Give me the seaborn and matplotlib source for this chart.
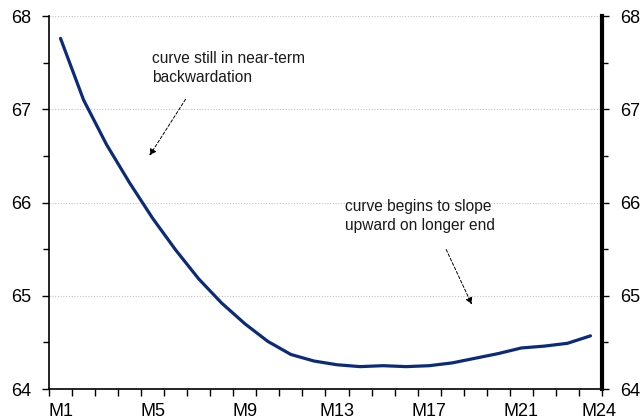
import matplotlib
matplotlib.use("Agg")
import matplotlib.pyplot as plt
import matplotlib.transforms as mtransforms
import seaborn as sns
import pandas as pd
from matplotlib.ticker import MultipleLocator, FixedLocator

months = [f"M{i}" for i in range(1, 25)]
prices = [67.76, 67.10, 66.62, 66.21, 65.83, 65.49, 65.18, 64.92, 64.70, 64.51,
          64.37, 64.30, 64.26, 64.24, 64.25, 64.24, 64.25, 64.28, 64.33, 64.38,
          64.44, 64.46, 64.49, 64.57]
tick_labels = ["M1", "M5", "M9", "M13", "M17", "M21", "M24"]
y_ticks = [64, 65, 66, 67, 68]

sns.set_theme(style="white")
plt.rcParams['font.family'] = ['Liberation Sans', 'DejaVu Sans']

df = pd.DataFrame({"month": months, "price": prices, "pos": range(len(months))})

W, H = 641, 419
fig = plt.figure(figsize=(W / 100, H / 100), dpi=100)
ax = fig.add_axes([49 / W, 1 - 389 / H, (602 - 49) / W, (389 - 16) / H])

sns.lineplot(data=df, x="pos", y="price", ax=ax, color="#0b2a78", linewidth=2.3)

ax.set_xlim(-0.5, len(months) - 0.5)
ax.set_ylim(64, 68)
ax.set_xlabel("")
ax.set_ylabel("")

# x ticks: boundaries as tick marks, labels at centres
ax.xaxis.set_major_locator(FixedLocator([x - 0.5 for x in range(len(months) + 1)]))
ax.set_xticklabels([])
label_pos = [months.index(t) for t in tick_labels]
label_pos[-1] = len(months) - 0.65
offset = mtransforms.ScaledTranslation(0, -27 / 100, fig.dpi_scale_trans)
for p, t in zip(label_pos, tick_labels):
    ax.text(p, 0.0, t, transform=ax.get_xaxis_transform() + offset,
            ha="center", va="baseline", fontsize=13, color="#000000")
ax.tick_params(axis="x", direction="out", length=5, width=1, color="black", bottom=True)

# y ticks
ax.set_yticks(y_ticks)
ax.set_yticklabels([str(v) for v in y_ticks])
ax.yaxis.set_minor_locator(MultipleLocator(0.5))
ax.tick_params(axis="y", which="both", direction="out", left=True, right=True,
               labelleft=True, labelright=True, labelsize=13, pad=8, color="black",
               labelcolor="black")
ax.tick_params(axis="y", which="major", length=5, width=1)
ax.tick_params(axis="y", which="minor", length=4, width=1)

for y in y_ticks:
    ax.axhline(y, color="#c4c4c4", linestyle=(0, (1, 1.5)), linewidth=0.8, zorder=0)

ax.spines["top"].set_visible(False)
ax.spines["left"].set_color("black")
ax.spines["left"].set_linewidth(1.2)
ax.spines["right"].set_color("black")
ax.spines["right"].set_linewidth(3)
ax.spines["bottom"].set_color("black")
ax.spines["bottom"].set_linewidth(1.2)

def px2data(x, y):
    inv = ax.transData.inverted()
    return inv.transform((x, H - y))

fig.canvas.draw()
# annotations
fig.text(152 / W, 1 - 68 / H, "curve still in near-term\nbackwardation", fontsize=11.2,
         ha="left", va="center", linespacing=1.3, color="#1a1a1a")
fig.text(345 / W, 1 - 216 / H, "curve begins to slope\nupward on longer end", fontsize=11.2,
         ha="left", va="center", linespacing=1.3, color="#1a1a1a")

ax.annotate("", xy=px2data(148, 158), xytext=px2data(187, 97),
            arrowprops=dict(arrowstyle="-|>", linestyle=(0, (3, 2)), color="black",
                            lw=0.7, mutation_scale=10))
ax.annotate("", xy=px2data(473, 307), xytext=px2data(445, 247),
            arrowprops=dict(arrowstyle="-|>", linestyle=(0, (3, 2)), color="black",
                            lw=0.7, mutation_scale=10))

fig.savefig("out.png", dpi=100)
